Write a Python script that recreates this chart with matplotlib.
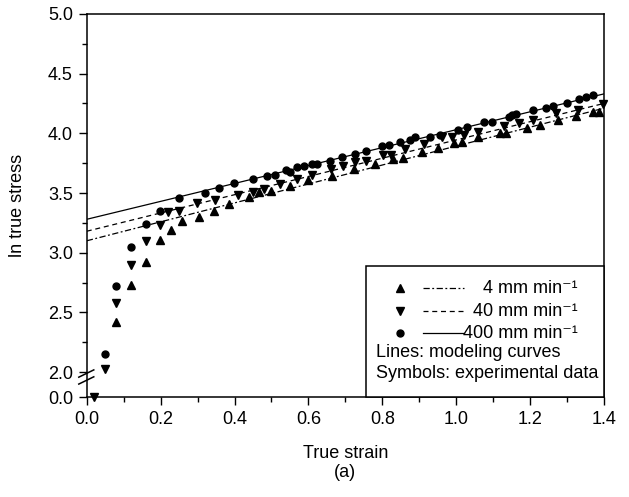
import matplotlib
matplotlib.use('Agg')
import matplotlib.pyplot as plt
from matplotlib.patches import Rectangle
import numpy as np

plt.rcParams['font.family'] = ['Liberation Sans', 'DejaVu Sans']
plt.rcParams['font.size'] = 13

# experimental data (true strain, ln true stress)
x_4 = [0.079, 0.119, 0.159, 0.199, 0.229, 0.258, 0.303, 0.345, 0.386, 0.439, 0.467, 0.500,
       0.551, 0.600, 0.663, 0.724, 0.781, 0.829, 0.857, 0.907, 0.950, 0.993, 1.015, 1.058,
       1.118, 1.136, 1.191, 1.227, 1.277, 1.325, 1.372, 1.388]
y_4 = [2.42, 2.73, 2.92, 3.11, 3.19, 3.265, 3.30, 3.35, 3.405, 3.47, 3.505, 3.515,
       3.56, 3.61, 3.645, 3.705, 3.745, 3.785, 3.795, 3.84, 3.875, 3.915, 3.93, 3.97,
       4.0, 4.0, 4.045, 4.07, 4.11, 4.145, 4.18, 4.18]

x_40 = [0.020, 0.050, 0.079, 0.119, 0.159, 0.199, 0.220, 0.249, 0.298, 0.348, 0.409, 0.449,
        0.480, 0.523, 0.570, 0.609, 0.661, 0.695, 0.727, 0.756, 0.801, 0.823, 0.862, 0.912,
        0.961, 0.988, 1.020, 1.060, 1.130, 1.170, 1.209, 1.271, 1.329, 1.399]
y_40 = [0.0, 2.03, 2.58, 2.90, 3.10, 3.23, 3.34, 3.35, 3.415, 3.44, 3.48, 3.505,
        3.53, 3.575, 3.615, 3.65, 3.70, 3.725, 3.76, 3.77, 3.82, 3.82, 3.865, 3.91,
        3.965, 3.965, 3.99, 4.01, 4.06, 4.09, 4.11, 4.17, 4.195, 4.245]

x_400 = [0.048, 0.079, 0.119, 0.159, 0.198, 0.249, 0.319, 0.359, 0.399, 0.449, 0.489, 0.510,
         0.540, 0.551, 0.569, 0.587, 0.609, 0.624, 0.659, 0.690, 0.727, 0.756, 0.799, 0.817,
         0.848, 0.875, 0.889, 0.930, 0.957, 1.006, 1.029, 1.076, 1.098, 1.142, 1.151, 1.162,
         1.209, 1.244, 1.262, 1.300, 1.334, 1.352, 1.370]
y_400 = [2.15, 2.72, 3.05, 3.24, 3.35, 3.46, 3.50, 3.54, 3.58, 3.62, 3.645, 3.655,
         3.69, 3.68, 3.72, 3.725, 3.745, 3.74, 3.77, 3.80, 3.83, 3.855, 3.89, 3.90,
         3.925, 3.945, 3.965, 3.97, 3.99, 4.03, 4.05, 4.095, 4.095, 4.135, 4.15, 4.165,
         4.195, 4.21, 4.225, 4.255, 4.285, 4.305, 4.32]

# modeling curves
line_x = [0.0, 1.4]
fit_4 = [3.10, 4.21]
fit_40 = [3.18, 4.25]
fit_400 = [3.28, 4.33]

rate_labels = ['4 mm min\u207b\u00b9', '40 mm min\u207b\u00b9', '400 mm min\u207b\u00b9']
x_ticks = [0.0, 0.2, 0.4, 0.6, 0.8, 1.0, 1.2, 1.4]
y_ticks = [0.0, 2.0, 2.5, 3.0, 3.5, 4.0, 4.5, 5.0]

# broken axis: squash everything below 2.0
K = 0.1047
def fwd(y):
    y = np.asarray(y, dtype=float)
    return np.where(y >= 2, y, 2 - (2 - y) * K)
def inv(y):
    y = np.asarray(y, dtype=float)
    return np.where(y >= 2, y, 2 - (2 - y) / K)

fig = plt.figure(figsize=(6.29, 4.97), dpi=100)
ax = fig.add_axes([0.138, 0.201, 0.822, 0.771])
ax.set_yscale('function', functions=(fwd, inv))

dashdot = (0, (5, 2, 1.5, 2))
dashed = (0, (4, 3))
ax.plot(line_x, fit_4, color='k', lw=0.9, ls=dashdot)
ax.plot(line_x, fit_40, color='k', lw=0.9, ls=dashed)
ax.plot(line_x, fit_400, color='k', lw=0.9, ls='-')

ax.plot(x_4, y_4, ls='none', marker='^', ms=6, color='k', clip_on=False)
ax.plot(x_40, y_40, ls='none', marker='v', ms=6, color='k', clip_on=False)
ax.plot(x_400, y_400, ls='none', marker='o', ms=5, color='k', clip_on=False)

ax.set_xlim(0, 1.4)
ax.set_ylim(0, 5)
ax.set_xticks(x_ticks)
ax.set_xticklabels(['%.1f' % v for v in x_ticks])
ax.set_xticks(np.arange(0.1, 1.4, 0.2), minor=True)
ax.set_yticks(y_ticks)
ax.set_yticklabels(['%.1f' % v for v in y_ticks])
ax.set_yticks(np.arange(2.25, 5.0, 0.5), minor=True)
ax.tick_params(which='major', direction='out', length=6, width=1, pad=4)
ax.tick_params(which='minor', direction='out', length=3.5, width=1)
for s in ax.spines.values():
    s.set_linewidth(1.1)

# break marks on the y axis
for y0 in (0.034, 0.052):
    ax.plot([-0.0155, 0.0135], [y0, y0 + 0.019], color='k', lw=1.1,
            transform=ax.transAxes, clip_on=False)

ax.set_xlabel('True strain')
ax.xaxis.set_label_coords(0.5, -0.146)
ax.xaxis.label.set_va('center')
ax.set_ylabel('ln true stress')
ax.yaxis.set_label_coords(-0.135, 0.5)
ax.yaxis.label.set_va('center')
fig.text(0.5485, 0.0503, '(a)', ha='center', va='center', fontsize=13)

# legend box drawn by hand
ax.add_patch(Rectangle((0.540, 0.0), 0.46, 0.342, transform=ax.transAxes,
                       fill=True, facecolor='white', edgecolor='k', lw=1.1,
                       zorder=5, clip_on=False))
rows = [0.284, 0.224, 0.166]
markers = ['^', 'v', 'o']
styles = [dashdot, dashed, '-']
for yy, mk, st, lab in zip(rows, markers, styles, rate_labels):
    ax.plot([0.606], [yy], marker=mk, ms=5 if mk == 'o' else 6, color='k',
            transform=ax.transAxes, zorder=6)
    ax.plot([0.650, 0.729], [yy, yy], color='k', lw=0.9, ls=st,
            transform=ax.transAxes, zorder=6)
    ax.text(0.950, yy, lab, ha='right', va='center', transform=ax.transAxes, zorder=6)
ax.text(0.559, 0.1155, 'Lines: modeling curves', ha='left', va='center',
        transform=ax.transAxes, zorder=6)
ax.text(0.559, 0.062, 'Symbols: experimental data', ha='left', va='center',
        transform=ax.transAxes, zorder=6)

fig.savefig('out.png', dpi=100)
